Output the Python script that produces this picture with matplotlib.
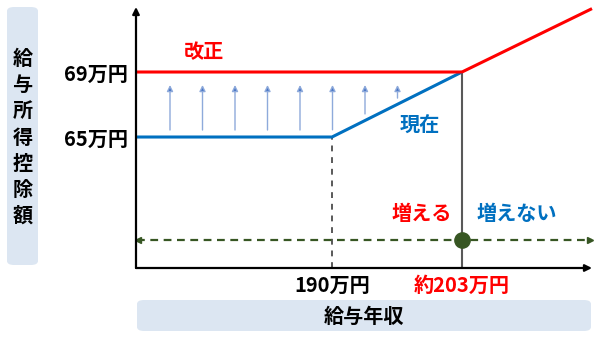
import matplotlib
matplotlib.use("Agg")
import matplotlib.pyplot as plt
from matplotlib.patches import FancyBboxPatch

plt.rcParams['font.family'] = ['Noto Sans CJK JP', 'DejaVu Sans']

# data (income in 万円, deduction in 万円)
new_x = [170.4, 203, 216]
new_y = [69, 69, 72.9]
cur_x = [170.4, 190, 203]
cur_y = [65, 65, 69]
arrow_x = [173.8, 177.05, 180.3, 183.55, 186.8, 190.05, 193.3, 196.55]
arrow_top = 68.2
ytick_vals = [65, 69]
ytick_labels = ["65万円", "69万円"]
xtick_vals = [190, 203]
xtick_labels = ["190万円", "約203万円"]
border_y = 58.66

RED = "#ff0000"
BLUE = "#0070c0"
GREEN = "#375623"
GRAY = "#595959"
BOX = "#dce6f2"

W, H = 599, 341
fig = plt.figure(figsize=(W / 100, H / 100), dpi=100)
ax = fig.add_axes([136 / W, (H - 268) / H, (592 - 136) / W, (268 - 7) / H])
ax.set_xlim(170.4, 216.0)
ax.set_ylim(56.94, 73.0)
for s in ax.spines.values():
    s.set_visible(False)

# axes with arrow heads
ax.annotate("", xy=(0, 1), xytext=(0, 0), xycoords="axes fraction",
            arrowprops=dict(arrowstyle="-|>", color="black", lw=1.6,
                            mutation_scale=10, shrinkA=0, shrinkB=0))
ax.annotate("", xy=(1, 0), xytext=(0, 0), xycoords="axes fraction",
            arrowprops=dict(arrowstyle="-|>", color="black", lw=1.6,
                            mutation_scale=10, shrinkA=0, shrinkB=0))

# guide lines
ax.plot([190, 190], [56.94, 65], color=GRAY, lw=1.4, ls=(0, (3, 3)))
ax.plot([203, 203], [56.94, 69], color=GRAY, lw=1.5)

# upward arrows
for xa in arrow_x:
    base = 65 + max(0, xa - 190) * 0.3 + 0.43
    ax.annotate("", xy=(xa, arrow_top), xytext=(xa, base),
                arrowprops=dict(arrowstyle="-|>", lw=1.0,
                                mutation_scale=9, shrinkA=0, shrinkB=0,
                                fc="#4472c4", ec="#8eaadb"))

# main lines
ax.plot(cur_x, cur_y, color=BLUE, lw=2.2, solid_capstyle="butt")
ax.plot(new_x, new_y, color=RED, lw=2.2, clip_on=False, solid_capstyle="butt")

# green border line
ax.plot([170.5, 216], [border_y, border_y], color=GREEN, lw=1.6, ls=(0, (3.5, 2.5)),
        clip_on=False)
ax.plot([170.6], [border_y], marker="<", color=GREEN, ms=5, clip_on=False)
ax.plot([215.8], [border_y], marker=">", color=GREEN, ms=5, clip_on=False)
ax.plot([203], [border_y], marker="o", color=GREEN, ms=11, zorder=5)

# labels
fs = 14.5
ax.text(177.2, 70.23, "改正", color=RED, fontsize=fs, fontweight="bold",
        ha="center", va="center")
ax.text(198.8, 65.74, "現在", color=BLUE, fontsize=fs, fontweight="bold",
        ha="center", va="center")
ax.text(199.0, 60.32, "増える", color=RED, fontsize=fs, fontweight="bold",
        ha="center", va="center")
ax.text(208.5, 60.32, "増えない", color=BLUE, fontsize=fs, fontweight="bold",
        ha="center", va="center")

ax.set_yticks(ytick_vals)
ax.set_yticklabels(ytick_labels, fontsize=fs, fontweight="bold")
ax.set_xticks(xtick_vals)
ax.set_xticklabels(xtick_labels, fontsize=fs, fontweight="bold")
ax.get_xticklabels()[1].set_color(RED)
ax.tick_params(length=0, pad=6)
ax.tick_params(axis="x", pad=5)

# boxes
fig.patches.append(FancyBboxPatch((7 / W, (H - 265) / H), 31 / W, 258 / H,
                                  boxstyle="round,pad=0,rounding_size=0.012",
                                  transform=fig.transFigure, fc=BOX, ec="none"))
fig.patches.append(FancyBboxPatch((137 / W, (H - 331) / H), 454 / W, 31 / H,
                                  boxstyle="round,pad=0,rounding_size=0.012",
                                  transform=fig.transFigure, fc=BOX, ec="none"))
fig.text(22.5 / W, (H - 137) / H, "\n".join("給与所得控除額"), fontsize=fs,
         fontweight="bold", ha="center", va="center", linespacing=1.3)
fig.text(364 / W, (H - 316) / H, "給与年収", fontsize=fs, fontweight="bold",
         ha="center", va="center")

fig.savefig("out.png", dpi=100)
